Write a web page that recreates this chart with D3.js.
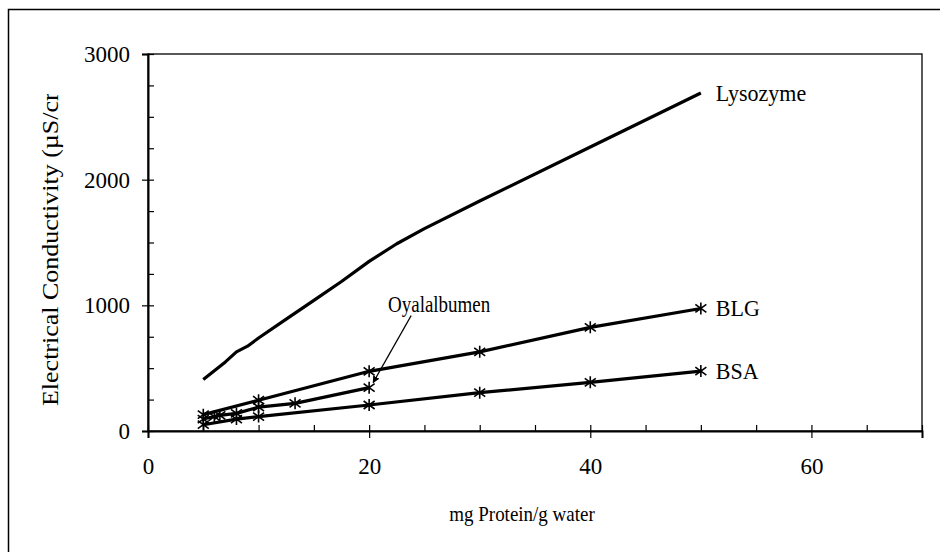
<!DOCTYPE html>
<html>
<head>
<meta charset="utf-8">
<script src="https://cdn.jsdelivr.net/npm/d3@7"></script>
<style>
  body { margin: 0; background: #fff; }
  svg text { font-family: "Liberation Serif", "Times New Roman", serif; fill: #000; }
</style>
</head>
<body>
<svg id="chart" width="940" height="552"></svg>
<script>
// values (mg protein / g water vs µS/cm)
const lysoX = [5, 6, 7, 8, 9, 10, 12.5, 15, 17.5, 20, 22.5, 25, 30, 40, 50];
const lysoY = [410, 480, 550, 630, 675, 740, 890, 1040, 1190, 1350, 1490, 1610, 1830, 2260, 2690];
const blgX = [5, 10, 20, 30, 40, 50];
const blgY = [130, 245, 475, 630, 825, 975];
const ovaX = [5, 6, 6.5, 8, 10, 13.3, 20];
const ovaY = [95, 115, 125, 140, 190, 220, 345];
const bsaX = [5, 8, 10, 20, 30, 40, 50];
const bsaY = [50, 95, 115, 207, 305, 387, 477];
const yMajor = [0, 1000, 2000, 3000];
const xMajor = [0, 20, 40, 60];

const svg = d3.select('#chart');

// outer frame (cut off at right and bottom)
svg.append('rect')
    .attr('x', 8.5).attr('y', 9.5)
    .attr('width', 960).attr('height', 580)
    .attr('fill', 'none').attr('stroke', '#000').attr('stroke-width', 1.5);

const plot = {left: 148, right: 922, top: 54, bottom: 431};
const x = d3.scaleLinear().domain([0, 70]).range([plot.left, plot.right]);
const y = d3.scaleLinear().domain([0, 3000]).range([plot.bottom, plot.top]);

// plot frame
svg.append('rect')
    .attr('x', plot.left).attr('y', plot.top)
    .attr('width', plot.right - plot.left).attr('height', plot.bottom - plot.top)
    .attr('fill', 'none').attr('stroke', '#000').attr('stroke-width', 1.3);

// y axis: inside minor ticks, crossing majors with labels
svg.append('g')
    .attr('transform', `translate(${plot.left},0)`)
    .call(d3.axisLeft(y).tickValues(d3.range(0, 3001, 250)).tickSize(-6).tickFormat(''))
    .call(g => g.select('.domain').remove());
svg.append('g')
    .attr('transform', `translate(${plot.left},0)`)
    .call(d3.axisLeft(y).tickValues(yMajor).tickSize(6).tickPadding(12).tickFormat(d3.format('d')))
    .call(g => g.select('.domain').attr('stroke-width', 2))
    .call(g => g.selectAll('text').attr('font-size', 23).attr('font-family', 'Liberation Serif'));

// x axis
svg.append('g')
    .attr('transform', `translate(0,${plot.bottom})`)
    .call(d3.axisBottom(x).tickValues(d3.range(0, 71, 5)).tickSize(-6).tickFormat(''))
    .call(g => g.select('.domain').remove());
svg.append('g')
    .attr('transform', `translate(0,${plot.bottom})`)
    .call(d3.axisBottom(x).tickValues(xMajor).tickSize(7).tickPadding(20).tickFormat(d3.format('d')))
    .call(g => g.select('.domain').attr('stroke-width', 2))
    .call(g => g.selectAll('text').attr('font-size', 23).attr('font-family', 'Liberation Serif'));

svg.selectAll('.tick line').attr('stroke', '#000').attr('stroke-width', 1.2);

// axis titles
svg.append('text')
    .attr('transform', 'translate(522,521) scale(1,1.06)')
    .attr('text-anchor', 'middle')
    .attr('font-size', 19)
    .text('mg Protein/g water');

// y title is cut off at the top in the original
svg.append('clipPath').attr('id', 'ylab-clip')
  .append('rect').attr('x', 0).attr('y', 94).attr('width', 140).attr('height', 400);
svg.append('g').attr('clip-path', 'url(#ylab-clip)')
  .append('text')
    .attr('transform', 'translate(58,406) rotate(-90) scale(1.13,1)')
    .attr('font-size', 23)
    .text('Electrical Conductivity (µS/cm)');

// lines
const line = d3.line().x(d => x(d[0])).y(d => y(d[1]));
const series = [
  {name: 'Lysozyme', xs: lysoX, ys: lysoY, marks: false},
  {name: 'BLG', xs: blgX, ys: blgY, marks: true},
  {name: 'Oyalalbumen', xs: ovaX, ys: ovaY, marks: true},
  {name: 'BSA', xs: bsaX, ys: bsaY, marks: true}
];
series.forEach(s => { s.pts = d3.zip(s.xs, s.ys); });

svg.append('g').selectAll('path')
    .data(series)
    .join('path')
    .attr('d', d => line(d.pts))
    .attr('fill', 'none')
    .attr('stroke', '#000')
    .attr('stroke-width', 3.2)
    .attr('stroke-linejoin', 'round');

// asterisk markers
const star = 'M0,-6V6M-5.5,-4L5.5,4M-5.5,4L5.5,-4';
svg.append('g').selectAll('path')
    .data(series.filter(s => s.marks).flatMap(s => s.pts))
    .join('path')
    .attr('transform', d => `translate(${x(d[0])},${y(d[1])})`)
    .attr('d', star)
    .attr('stroke', '#000')
    .attr('stroke-width', 1.6)
    .attr('fill', 'none');

// end labels
const endLabels = series.filter(s => s.name !== 'Oyalalbumen');
svg.append('g').selectAll('text')
    .data(endLabels)
    .join('text')
    .attr('transform', d => `translate(${x(d.xs[d.xs.length - 1]) + 15},${y(d.ys[d.ys.length - 1]) + 8}) scale(1,1.08)`)
    .attr('font-size', 22)
    .text(d => d.name);

// Ovalbumin callout with arrow
const ova = series[2];
const tip = ova.pts[ova.pts.length - 1];
svg.append('defs').append('marker')
    .attr('id', 'arrow')
    .attr('viewBox', '0 0 10 10')
    .attr('refX', 9).attr('refY', 5)
    .attr('markerWidth', 6).attr('markerHeight', 6)
    .attr('orient', 'auto')
  .append('path')
    .attr('d', 'M0,0L10,5L0,10z')
    .attr('fill', '#000');
svg.append('line')
    .attr('x1', x(tip[0]) + 42).attr('y1', y(tip[1]) - 72)
    .attr('x2', x(tip[0]) + 4).attr('y2', y(tip[1]) - 5)
    .attr('stroke', '#000')
    .attr('stroke-width', 1.2)
    .attr('marker-end', 'url(#arrow)');
svg.append('text')
    .attr('transform', 'translate(388,312) scale(1,1.18)')
    .attr('font-size', 19)
    .text('Oyalalbumen');
</script>
</body>
</html>
